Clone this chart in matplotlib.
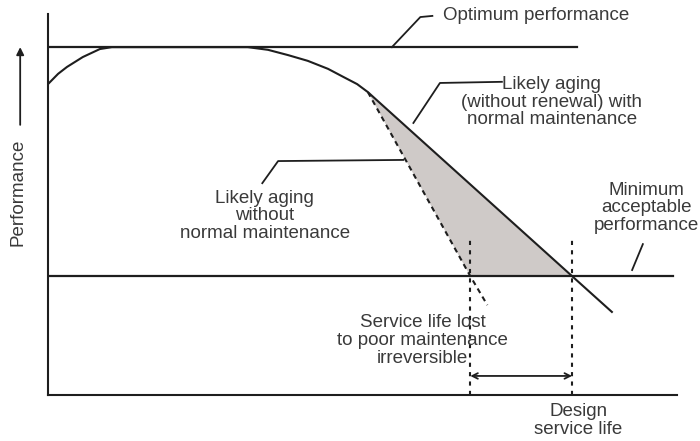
import numpy as np
import matplotlib.pyplot as plt

plt.rcParams['font.family'] = ['Liberation Sans', 'DejaVu Sans']

# time (% of axis) and performance (% of axis)
optimum_level = 91.3
optimum_end = 83.7
minimum_level = 31.2
minimum_end = 98.9

# aging curve with normal maintenance
aging_t = [0.0, 1.6, 3.0, 5.5, 8.2, 10.1, 31.6, 34.8, 38.0, 41.1, 44.3, 46.7, 48.9, 50.6, 82.9, 89.2]
aging_p = [81.6, 84.3, 86.1, 88.7, 90.8, 91.3, 91.3, 90.6, 89.2, 87.7, 85.6, 83.5, 81.6, 79.5, 31.2, 21.8]

# aging without normal maintenance (dashed)
poor_t = [50.6, 66.8, 69.5]
poor_p = [79.5, 31.2, 23.6]

# leader lines
opt_leader_t = [54.4, 58.9, 60.8]
opt_leader_p = [91.3, 99.2, 99.5]
norm_leader_t = [57.8, 62.0, 71.8]
norm_leader_p = [71.4, 81.9, 82.2]
poor_leader_t = [33.9, 36.4, 56.2]
poor_leader_p = [55.6, 61.4, 61.7]
min_leader_t = [92.4, 94.1]
min_leader_p = [32.8, 39.6]

lost_t = 66.8
design_t = 82.9
marker_top = 40.7
arrow_p = 5.0

ink = '#1e1e1e'
txt = '#3a3a3a'
fs = 13.5

fig = plt.figure(figsize=(7, 4.41), dpi=100)
ax = fig.add_axes([48 / 700, 46 / 441, 629 / 700, 381 / 441])
ax.set_xlim(0, 99.5)
ax.set_ylim(0, 100)
for s in ['top', 'right']:
    ax.spines[s].set_visible(False)
for s in ['left', 'bottom']:
    ax.spines[s].set_linewidth(1.5)
    ax.spines[s].set_color(ink)
ax.set_xticks([])
ax.set_yticks([])

# shaded loss area between the two aging lines, above minimum
poly_t = [poor_t[0], aging_t[-2], poor_t[1]]
poly_p = [poor_p[0], aging_p[-2], poor_p[1]]
ax.fill(poly_t, poly_p, color='#cfcac8', lw=0, zorder=1)

ax.plot([0, optimum_end], [optimum_level] * 2, color=ink, lw=1.6, zorder=3)
ax.plot([0, minimum_end], [minimum_level] * 2, color=ink, lw=1.6, zorder=3)
ax.plot(aging_t, aging_p, color=ink, lw=1.5, zorder=3)
ax.plot(poor_t, poor_p, color=ink, lw=1.5, ls=(0, (2.5, 2)), zorder=3)

for t in [lost_t, design_t]:
    ax.plot([t, t], [0, marker_top], color=ink, lw=1.5, ls=(0, (2, 2.5)), zorder=2)
ax.annotate('', xy=(design_t, arrow_p), xytext=(lost_t, arrow_p),
            arrowprops=dict(arrowstyle='<->', color=ink, lw=1.3, shrinkA=0, shrinkB=0))

for lt, lp in [(opt_leader_t, opt_leader_p), (norm_leader_t, norm_leader_p),
               (poor_leader_t, poor_leader_p), (min_leader_t, min_leader_p)]:
    ax.plot(lt, lp, color=ink, lw=1.3, clip_on=False)

kw = dict(ha='center', va='center', fontsize=fs, color=txt, linespacing=1.07, clip_on=False)
ax.text(77.2, 99.5, 'Optimum performance', **kw)
ax.text(79.7, 76.9, 'Likely aging\n(without renewal) with\nnormal maintenance', **kw)
ax.text(34.3, 47.0, 'Likely aging\nwithout\nnormal maintenance', **kw)
ax.text(94.6, 49.1, 'Minimum\nacceptable\nperformance', **kw)
ax.text(59.3, 14.4, 'Service life lost\nto poor maintenance\nirreversible', **kw)
ax.text(83.9, -6.8, 'Design\nservice life', **kw)
ax.text(-4.7, 53.3, 'Performance', rotation=90, **kw)
ax.annotate('', xy=(-4.4, 91.3), xytext=(-4.4, 70.9), annotation_clip=False,
            arrowprops=dict(arrowstyle='-|>', color=ink, lw=1.3, mutation_scale=11,
                            shrinkA=0, shrinkB=0))

fig.savefig('out.png', dpi=100)
